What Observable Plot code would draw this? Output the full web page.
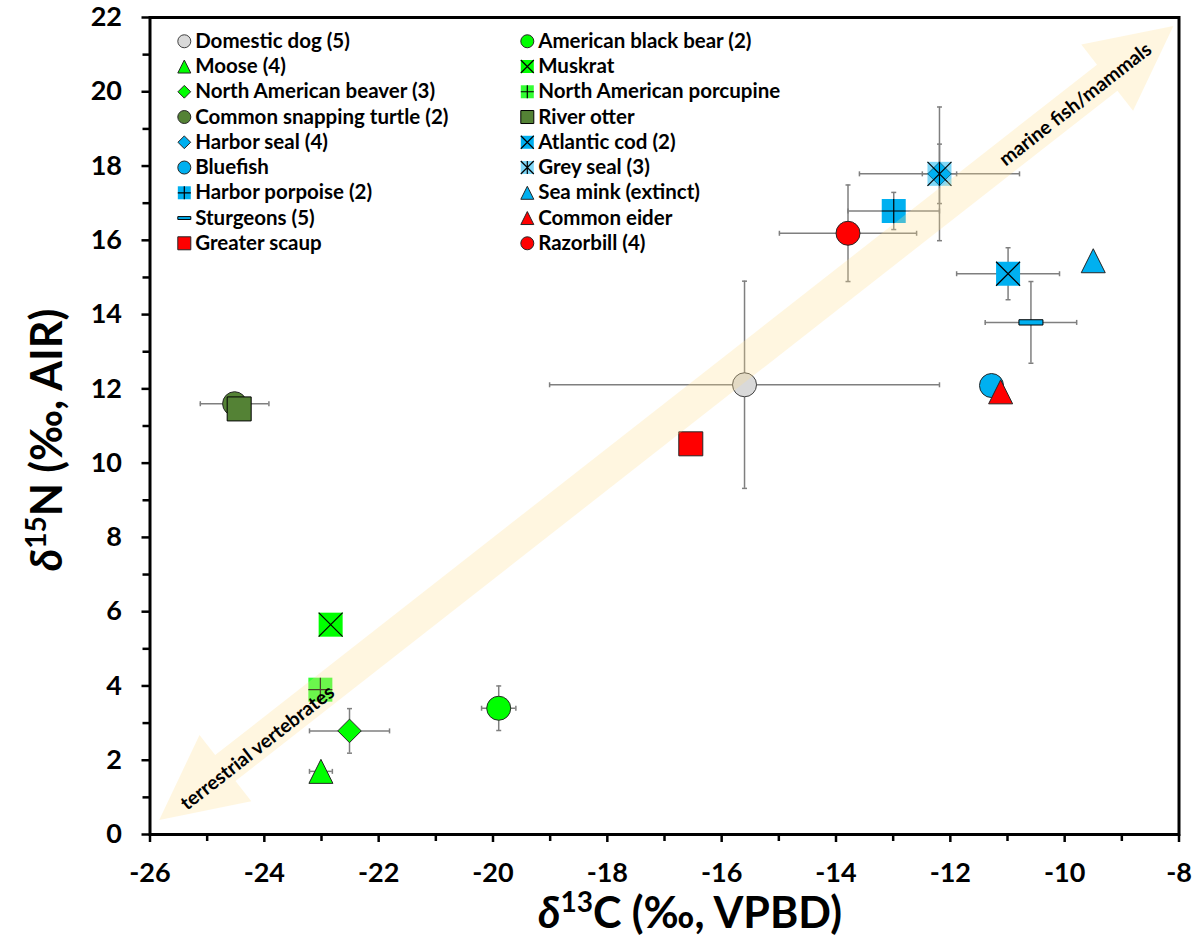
<!DOCTYPE html>
<html><head><meta charset="utf-8">
<script src="https://cdn.jsdelivr.net/npm/d3@7"></script>
<script src="https://cdn.jsdelivr.net/npm/@observablehq/plot@0.6"></script>
<style>body{margin:0;background:#fff} svg{display:block}</style>
</head><body><div id="chart"></div>
<script>
// ---------------- data ----------------
const species = ["Domestic dog (5)", "Moose (4)", "North American beaver (3)", "Common snapping turtle (2)", "Harbor seal (4)", "Bluefish", "Harbor porpoise (2)", "Sturgeons (5)", "Greater scaup",
  "American black bear (2)", "Muskrat", "North American porcupine", "River otter", "Atlantic cod (2)", "Grey seal (3)", "Sea mink (extinct)", "Common eider", "Razorbill (4)"];
const d13C = [-15.60, -23.01, -22.51, -24.52, -12.19, -11.28, -12.99, -10.59, -16.54, -19.90, -22.84, -23.02, -24.44, -10.99, -12.19, -9.50, -11.12, -13.79];
const d15N = [12.11, 1.70, 2.79, 11.60, 17.79, 12.09, 16.79, 13.79, 10.52, 3.40, 5.65, 3.90, 11.46, 15.10, 17.79, 15.45, 11.92, 16.19];
const sdC  = [3.41, 0.2, 0.7, 0.6, 0.3, 0, 0.8, 0.8, 0, 0.3, 0, 0, 0, 0.9, 1.4, 0, 0, 1.2];
const sdN  = [2.79, 0, 0.6, 0, 0.8, 0, 0.5, 1.1, 0, 0.6, 0, 0, 0, 0.7, 1.8, 0, 0, 1.3];
const xTicks = [-26, -24, -22, -20, -18, -16, -14, -12, -10, -8];
const yTicks = [0, 2, 4, 6, 8, 10, 12, 14, 16, 18, 20, 22];
const arrowX = [-25.83, -8.09];
const arrowY = [0.38, 21.76];
const arrowLabels = ["terrestrial vertebrates", "marine fish/mammals"];
const arrowLabelX = [-24.12, -9.81];
const arrowLabelY = [2.33, 19.66];

// ---------------- styles ----------------
const BLUE = "#00b0f0", GREEN = "#00ff00", OLIVE = "#548235", RED = "#ff0000";
const styles = [
  {shape: "circle", fill: "#d9d9d9", stroke: "#404040"},
  {shape: "tri", fill: GREEN, stroke: "#262626"},
  {shape: "diamond", fill: GREEN, stroke: "#262626"},
  {shape: "circle", fill: OLIVE, stroke: "#262626"},
  {shape: "diamond", fill: BLUE, stroke: "#262626"},
  {shape: "circle", fill: BLUE, stroke: "#262626"},
  {shape: "square", fill: BLUE, lines: "plus"},
  {shape: "bar", fill: BLUE, stroke: "#000"},
  {shape: "square", fill: RED, stroke: "#262626"},
  {shape: "circle", fill: GREEN, stroke: "#262626"},
  {shape: "square", fill: GREEN, lines: "x"},
  {shape: "square", fill: GREEN, op: 0.8, lines: "plus"},
  {shape: "square", fill: OLIVE, stroke: "#000"},
  {shape: "square", fill: BLUE, lines: "x"},
  {shape: "square", fill: BLUE, op: 0.5, lines: "star"},
  {shape: "tri", fill: BLUE, stroke: "#262626"},
  {shape: "tri", fill: RED, stroke: "#262626"},
  {shape: "circle", fill: RED, stroke: "#262626"}
];

const sym = (f) => ({draw(c, s) { f(c, Math.sqrt(s) / 2); }});
const SYM = {
  square: sym((c, h) => { c.moveTo(-h, -h); c.lineTo(h, -h); c.lineTo(h, h); c.lineTo(-h, h); c.closePath(); }),
  tri: sym((c, h) => { c.moveTo(0, -h); c.lineTo(h, h); c.lineTo(-h, h); c.closePath(); }),
  diamond: sym((c, h) => { c.moveTo(0, -h); c.lineTo(h, 0); c.lineTo(0, h); c.lineTo(-h, 0); c.closePath(); }),
  bar: sym((c, h) => { const k = h * 0.22; c.moveTo(-h, -k); c.lineTo(h, -k); c.lineTo(h, k); c.lineTo(-h, k); c.closePath(); }),
  x: sym((c, h) => { c.moveTo(-h, -h); c.lineTo(h, h); c.moveTo(-h, h); c.lineTo(h, -h); }),
  plus: sym((c, h) => { c.moveTo(-h, 0); c.lineTo(h, 0); c.moveTo(0, -h); c.lineTo(0, h); }),
  star: sym((c, h) => { c.moveTo(-h, -h); c.lineTo(h, h); c.moveTo(-h, h); c.lineTo(h, -h); c.moveTo(0, -h); c.lineTo(0, h); }),
  vcap: sym((c, h) => { c.moveTo(0, -h); c.lineTo(0, h); }),
  hcap: sym((c, h) => { c.moveTo(-h, 0); c.lineTo(h, 0); })
};
const side2r = (side) => side / Math.sqrt(Math.PI);

const recs = species.map((name, i) => ({name, i, x: d13C[i], y: d15N[i], sx: sdC[i], sy: sdN[i]}));

function markerMarks(rec, x, y, size) {
  const s = styles[rec.i];
  const out = [];
  const data = [rec];
  let symbol, r;
  if (s.shape === "circle") { symbol = "circle"; r = size / 2; }
  else { symbol = SYM[s.shape]; r = side2r(s.shape === "diamond" ? size * 0.98 : size); }
  out.push(Plot.dot(data, {x, y, symbol, r, fill: s.fill, fillOpacity: s.op ?? 1,
    stroke: s.stroke ?? "none", strokeWidth: 1}));
  if (s.lines) out.push(Plot.dot(data, {x, y, symbol: SYM[s.lines], r: side2r(size), fill: "none", stroke: "#000", strokeWidth: 1.2}));
  return out;
}

// error bars
const ex = recs.filter(d => d.sx > 0), ey = recs.filter(d => d.sy > 0);
const ERR = "#7f7f7f";
const errMarks = [
  Plot.ruleY(ex, {y: "y", x1: d => d.x - d.sx, x2: d => d.x + d.sx, stroke: ERR, strokeWidth: 1.5}),
  Plot.ruleX(ey, {x: "x", y1: d => d.y - d.sy, y2: d => d.y + d.sy, stroke: ERR, strokeWidth: 1.5}),
  Plot.dot(ex, {x: d => d.x - d.sx, y: "y", symbol: SYM.vcap, r: side2r(5), stroke: ERR, strokeWidth: 1.5}),
  Plot.dot(ex, {x: d => d.x + d.sx, y: "y", symbol: SYM.vcap, r: side2r(5), stroke: ERR, strokeWidth: 1.5}),
  Plot.dot(ey, {x: "x", y: d => d.y - d.sy, symbol: SYM.hcap, r: side2r(5), stroke: ERR, strokeWidth: 1.5}),
  Plot.dot(ey, {x: "x", y: d => d.y + d.sy, symbol: SYM.hcap, r: side2r(5), stroke: ERR, strokeWidth: 1.5})
];

// points (series order = drawing order)
const pointMarks = recs.flatMap(d => markerMarks(d, "x", "y", 24));

// legend (positions in data units, two columns of nine)
const legX = (i) => i < 9 ? -25.40 : -19.40;
const legY = (i) => 21.36 - (i % 9) * 0.68;
const legendMarks = recs.flatMap(d => markerMarks(d, () => legX(d.i), () => legY(d.i), 13));
const legendText = Plot.text(recs, {x: d => legX(d.i) + 0.19, y: d => legY(d.i), text: "name", textAnchor: "start",
  fontSize: 20.5, fontWeight: "bold", fill: "#000"});

// arrow drawn through the scales
function arrowMark(index, scales) {
  const ax = scales.x(arrowX[0]), ay = scales.y(arrowY[0]);
  const bx = scales.x(arrowX[1]), by = scales.y(arrowY[1]);
  const len = Math.hypot(bx - ax, by - ay);
  const ux = (bx - ax) / len, uy = (by - ay) / len;
  const nx = -uy, ny = ux;
  const L = 84, H = 42, S = 16.5;
  const p = (x, y) => `${x.toFixed(1)},${y.toFixed(1)}`;
  const pts = [
    p(bx, by),
    p(bx - L * ux + H * nx, by - L * uy + H * ny),
    p(bx - L * ux + S * nx, by - L * uy + S * ny),
    p(ax + L * ux + S * nx, ay + L * uy + S * ny),
    p(ax + L * ux + H * nx, ay + L * uy + H * ny),
    p(ax, ay),
    p(ax + L * ux - H * nx, ay + L * uy - H * ny),
    p(ax + L * ux - S * nx, ay + L * uy - S * ny),
    p(bx - L * ux - S * nx, by - L * uy - S * ny),
    p(bx - L * ux - H * nx, by - L * uy - H * ny)
  ];
  const poly = document.createElementNS("http://www.w3.org/2000/svg", "polygon");
  poly.setAttribute("points", pts.join(" "));
  poly.setAttribute("fill", "#ffe08f");
  poly.setAttribute("fill-opacity", "0.28");
  return poly;
}

const arrowText = Plot.text(arrowLabels, {x: (d, i) => arrowLabelX[i], y: (d, i) => arrowLabelY[i], text: d => d,
  rotate: -38, fontSize: 19.5, fontWeight: "bold", fill: "#000"});

const axisStyle = {fontSize: 27, fontWeight: "bold", stroke: "#000", strokeWidth: 2.5, label: null};
const svg = Plot.plot({
  width: 1198, height: 942,
  marginLeft: 149.5, marginRight: 19.5, marginTop: 17, marginBottom: 108,
  style: {fontFamily: "Lato, 'Open Sans', sans-serif", color: "#000", background: "#fff"},
  x: {domain: [-26, -8]},
  y: {domain: [0, 22]},
  marks: [
    Plot.axisX({ticks: xTicks, tickSize: 8, tickPadding: 20, tickFormat: d => String(d), ...axisStyle}),
    Plot.axisX({ticks: d3.range(-25, -8, 2), tickSize: 7, tickFormat: () => "", ...axisStyle}),
    Plot.axisY({ticks: yTicks, tickSize: 8, tickPadding: 20, tickFormat: d => String(d), ...axisStyle}),
    Plot.axisY({ticks: d3.range(1, 22, 2), tickSize: 7, tickFormat: () => "", ...axisStyle}),
    ...errMarks,
    ...pointMarks,
    ...legendMarks,
    legendText,
    arrowMark,
    arrowText,
    Plot.frame({stroke: "#000", strokeWidth: 3})
  ]
});

// axis titles with italic delta and superscripts
const s = d3.select(svg);
function title(sel, sup, rest) {
  sel.attr("font-size", 43).attr("font-weight", "bold").attr("text-anchor", "middle").attr("fill", "#000")
    .style("font-family", "Lato, 'Open Sans', sans-serif");
  sel.append("tspan").attr("font-style", "italic").text("δ");
  sel.append("tspan").attr("font-size", 28).attr("dy", -16).text(sup);
  sel.append("tspan").attr("dy", 16).text(rest);
}
title(s.append("text").attr("x", 690).attr("y", 928), "13", "C (‰, VPBD)");
title(s.append("text").attr("transform", "translate(62,440) rotate(-90)"), "15", "N (‰, AIR)");

document.getElementById("chart").appendChild(svg);
</script>
</body></html>
